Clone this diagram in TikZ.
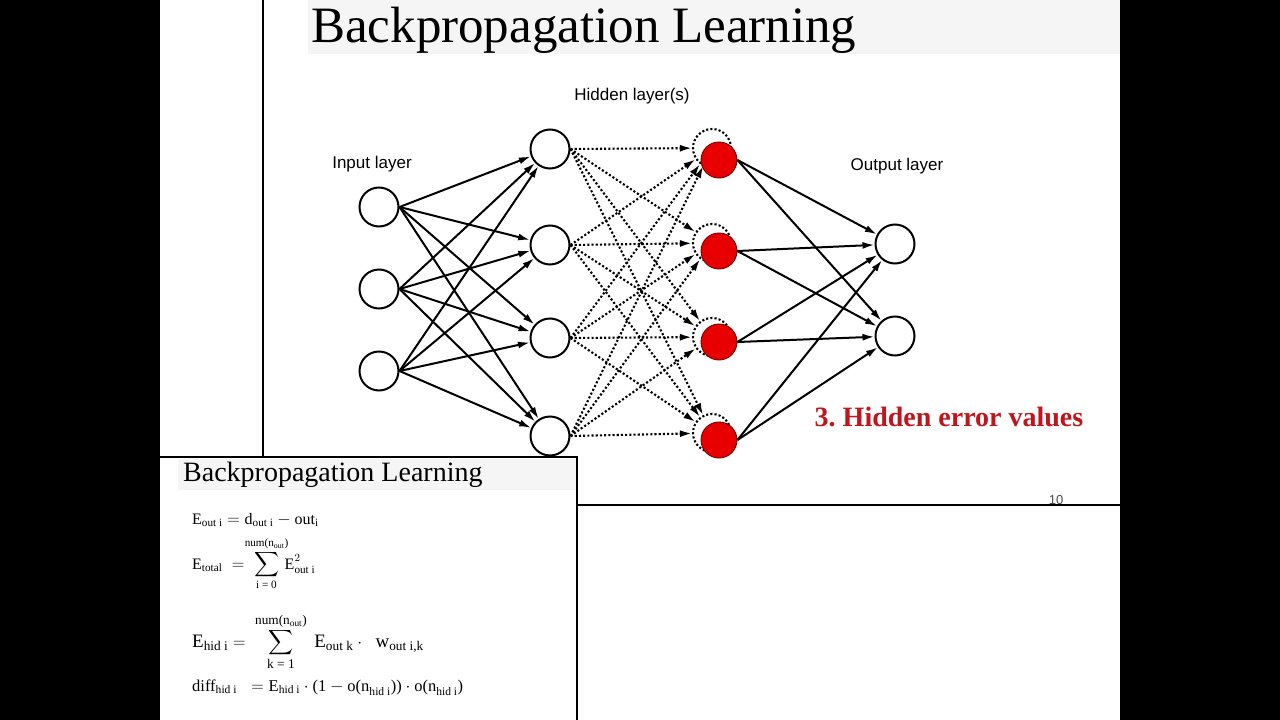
\documentclass[tikz,border=0pt]{standalone}
\usepackage{amsmath}
\usepackage{fontspec}
\setmainfont{Liberation Serif}
\setsansfont{Liberation Sans}
\usepackage{tikz}
\usetikzlibrary{arrows.meta}
\definecolor{errred}{RGB}{190,22,28}
\definecolor{nodered}{RGB}{232,0,0}
\definecolor{bandgray}{RGB}{245,245,245}

\begin{document}
\begin{tikzpicture}[x=1pt, y=-1pt, >={Latex[length=12pt,width=7pt]}]
    \tikzstyle{neuron} = [draw, circle, line width=2pt, fill=white, minimum size=39pt, inner sep=0pt]
    \tikzstyle{ghost} = [draw, circle, line width=2.1pt, dash pattern=on 2.1pt off 2.1pt, minimum size=38pt, inner sep=0pt]
    \tikzstyle{errnode} = [draw=red!45!black, circle, line width=0.9pt, fill=nodered, minimum size=36pt, inner sep=0pt]
    \tikzstyle{wire} = [->, line width=2pt]
    \tikzstyle{dotwire} = [->, line width=2.1pt, dash pattern=on 2.1pt off 2.1pt]
    \tikzstyle{layerlabel} = [font=\sffamily\fontsize{17}{20}\selectfont, inner sep=0pt]
    \tikzstyle{formula} = [anchor=base west, inner sep=0pt, font=\fontsize{16}{18}\selectfont]

    \useasboundingbox (0,0) rectangle (1280,720);

    % Fondo e bordi della slide
    \fill[white] (160,0) rectangle (1120,720);
    \fill[black] (0,0) rectangle (160,720);
    \fill[black] (1120,0) rectangle (1280,720);
    \fill[bandgray] (308,0) rectangle (1120,54);
    \draw[line width=1.2pt] (263,0) -- (263,457);
    \draw[line width=1.2pt] (577,505) -- (1120,505);

    % Titolo
    \node[anchor=base west, inner sep=0pt, font=\fontsize{51}{55}\selectfont] (title) at (311,42) {Backpropagation Learning};

    % Strato di ingresso
    \node[neuron] (i1) at (379,207) {};
    \node[neuron] (i2) at (379,289) {};
    \node[neuron] (i3) at (379,371) {};

    % Strato nascosto
    \node[neuron] (h1) at (550,149) {};
    \node[neuron] (h2) at (550,245) {};
    \node[neuron] (h3) at (550,338) {};
    \node[neuron] (h4) at (550,436) {};

    % Nodi nascosti (errore)
    \node[ghost] (g1) at (712,148) {};
    \node[ghost] (g2) at (712,243) {};
    \node[ghost] (g3) at (712,337) {};
    \node[ghost] (g4) at (712,433) {};

    % Strato di uscita
    \node[neuron] (o1) at (895,244) {};
    \node[neuron] (o2) at (895,336) {};

    % Connessioni ingresso -> nascosto
    \path (i1.east) edge[wire] (h1) edge[wire] (h2) edge[wire] (h3) edge[wire] (h4);
    \path (i2.east) edge[wire] (h1) edge[wire] (h2) edge[wire] (h3) edge[wire] (h4);
    \path (i3.east) edge[wire] (h1) edge[wire] (h2) edge[wire] (h3) edge[wire] (h4);

    % Connessioni tratteggiate nascosto -> nascosto
    \path (h1.east) edge[dotwire] (g1) edge[dotwire] (g2) edge[dotwire] (g3) edge[dotwire] (g4);
    \path (h2.east) edge[dotwire] (g1) edge[dotwire] (g2) edge[dotwire] (g3) edge[dotwire] (g4);
    \path (h3.east) edge[dotwire] (g1) edge[dotwire] (g2) edge[dotwire] (g3) edge[dotwire] (g4);
    \path (h4.east) edge[dotwire] (g1) edge[dotwire] (g2) edge[dotwire] (g3) edge[dotwire] (g4);

    % Nodi rossi
    \node[errnode] (e1) at (719,160) {};
    \node[errnode] (e2) at (719,251) {};
    \node[errnode] (e3) at (719,342) {};
    \node[errnode] (e4) at (719,440) {};

    % Connessioni nascosto -> uscita
    \path (e1.east) edge[wire] (o1) edge[wire] (o2);
    \path (e2.east) edge[wire] (o1) edge[wire] (o2);
    \path (e3.east) edge[wire] (o1) edge[wire] (o2);
    \path (e4.east) edge[wire] (o1) edge[wire] (o2);

    % Etichette
    \node[layerlabel] (inlabel) at (372,164) {Input layer};
    \node[layerlabel] (hidlabel) at (632,96) {Hidden layer(s)};
    \node[layerlabel] (outlabel) at (897,166) {Output layer};
    \node[errred, font=\bfseries\fontsize{28}{30}\selectfont, inner sep=0pt] (note) at (949,417) {3.\ Hidden error values};
    \node[font=\sffamily\fontsize{13}{15}\selectfont, gray!60!black, inner sep=0pt] (page) at (1056,500) {10};

    % Riquadro in basso a sinistra
    \fill[white] (160,457) rectangle (577,720);
    \fill[bandgray] (178,459) rectangle (577,490);
    \draw[line width=1.2pt] (160,457) -- (577,457) -- (577,720);
    \node[anchor=base west, inner sep=0pt, font=\fontsize{28}{30}\selectfont] (subtitle) at (183,481) {Backpropagation Learning};

    \node[formula] (f1) at (192,524)
        {$\text{E}_{\text{out i}}=\text{d}_{\text{out i}}-\text{out}_{\text{i}}$};
    \node[formula] (f2) at (192,569)
        {$\text{E}_{\text{total}}\;=\;\displaystyle\sum_{\text{i = 0}}^{\text{\makebox[0pt]{num(n\textsubscript{out})}}}\,\text{E}^{2}_{\text{out i}}$};
    \node[formula, font=\fontsize{19}{21}\selectfont] (f3) at (192,647)
        {$\text{E}_{\text{hid i}}=\;\displaystyle\sum_{\text{k = 1}}^{\text{num(n\textsubscript{out})}}\;\text{E}_{\text{out k}}\cdot\;\;\text{w}_{\text{out i,k}}$};
    \node[formula, font=\fontsize{16.5}{18}\selectfont] (f4) at (192,691)
        {$\text{diff}_{\text{hid i}}\;\;=\text{E}_{\text{hid i}}\cdot\text{(1}-\text{o(n}_{\text{hid i}}\text{))}\cdot\text{o(n}_{\text{hid i}}\text{)}$};
\end{tikzpicture}
\end{document}
